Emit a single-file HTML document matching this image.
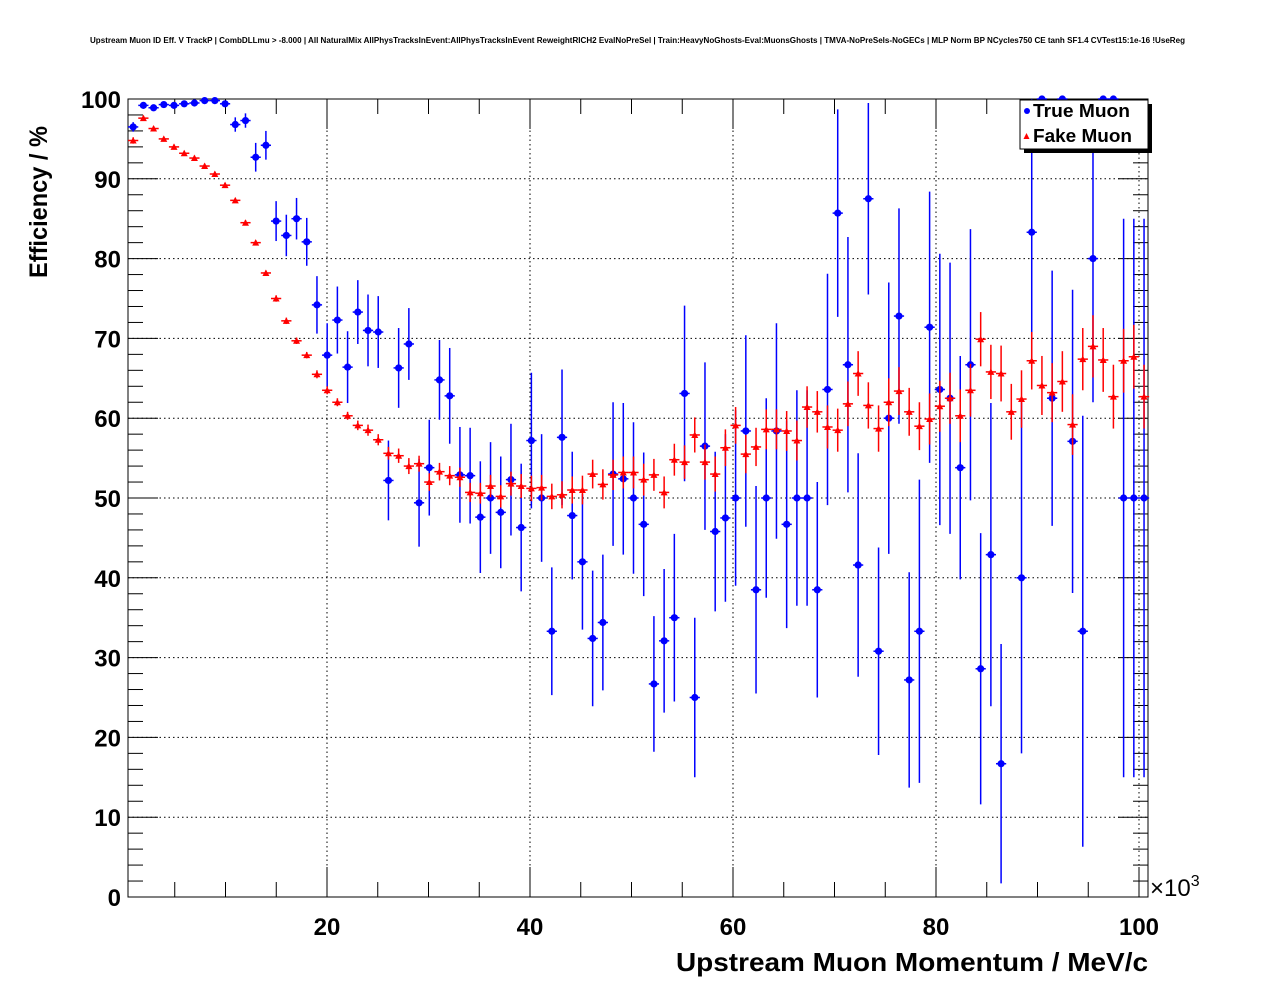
<!DOCTYPE html>
<html><head><meta charset="utf-8">
<style>
html,body{margin:0;padding:0;background:#fff;}
svg{display:block;font-family:"Liberation Sans",Arial,sans-serif;}
</style></head>
<body>
<svg id="chart" width="1276" height="996" viewBox="0 0 1276 996" xmlns="http://www.w3.org/2000/svg">
<rect x="0" y="0" width="1276" height="996" fill="#fff"/>
<text x="90" y="43" font-size="8" font-weight="bold" textLength="1095" lengthAdjust="spacingAndGlyphs">Upstream Muon ID Eff. V TrackP | CombDLLmu &gt; -8.000 | All NaturalMix AllPhysTracksInEvent:AllPhysTracksInEvent ReweightRICH2 EvalNoPreSel | Train:HeavyNoGhosts-Eval:MuonsGhosts | TMVA-NoPreSels-NoGECs | MLP Norm BP NCycles750 CE tanh SF1.4 CVTest15:1e-16 !UseReg</text>
<g id="grid"></g>
<g id="axes"></g>
<g id="series-true"></g>
<g id="series-fake"></g>
<text transform="translate(47,278) rotate(-90)" font-size="25" font-weight="bold" textLength="152" lengthAdjust="spacingAndGlyphs">Efficiency / %</text>
<text x="676" y="971" font-size="26" font-weight="bold" textLength="472" lengthAdjust="spacingAndGlyphs">Upstream Muon Momentum / MeV/c</text>
<text x="1150" y="896" font-size="24">×10<tspan font-size="16" dy="-10">3</tspan></text>
<g>
<rect x="1024" y="104" width="128" height="49" fill="#000"/>
<rect x="1020" y="100" width="128" height="49" fill="#fff" stroke="#000" stroke-width="1"/>
<circle cx="1027" cy="111" r="3" fill="#0000ff"/>
<text x="1033" y="117" font-size="18" font-weight="bold" textLength="97" lengthAdjust="spacingAndGlyphs">True Muon</text>
<polygon points="1023.5,139 1026.5,133 1029.5,139" fill="#ff0000"/>
<text x="1033" y="142" font-size="18" font-weight="bold" textLength="99" lengthAdjust="spacingAndGlyphs">Fake Muon</text>
</g>
</svg>
<script>
const trueVals=[96.5,99.2,98.9,99.3,99.2,99.4,99.5,99.8,99.8,99.4,96.8,97.3,92.7,94.2,84.7,82.9,85.0,82.1,74.2,67.9,72.3,66.4,73.3,71.0,70.8,52.2,66.3,69.3,49.4,53.8,64.8,62.8,52.9,52.8,47.6,50.0,48.2,52.3,46.3,57.2,50.0,33.3,57.6,47.8,42.0,32.4,34.4,53.0,52.4,50.0,46.7,26.7,32.1,35.0,63.1,25.0,56.5,45.8,47.5,50.0,58.4,38.5,50.0,58.4,46.7,50.0,50.0,38.5,63.6,85.7,66.7,41.6,87.5,30.8,60.0,72.8,27.2,33.3,71.4,63.6,62.5,53.8,66.7,28.6,42.9,16.7,null,40.0,83.3,100,62.5,100,57.1,33.3,80.0,100,100,50.0,50.0,50.0];
const trueErr=[0.6,0.3,0.3,0.3,0.3,0.3,0.3,0.3,0.3,0.4,0.9,0.9,1.8,1.8,2.5,2.6,2.6,3,3.6,4,4.2,4.5,4,4.5,4.5,5,5,4.5,5.5,6,5,6,6,6,7,7,7,7,8,8.5,8,8,8.5,8,8.5,8.5,8.5,9,9.5,9.5,9,8.5,9,10.5,11,10,10.5,10,10.5,11,12,13,12.5,13.5,13,13.5,13.5,13.5,14.5,13,16,14,12,13,17,13.5,13.5,19,17,17,17,14,17,17,19,15,0,22,17,0,16,0,19,27,18,0,0,35,35,35];
const fakeVals=[94.8,97.6,96.3,95.0,94.0,93.2,92.6,91.6,90.6,89.2,87.3,84.5,82.0,78.2,75.0,72.2,69.7,67.9,65.5,63.5,62.0,60.3,59.1,58.5,57.3,55.6,55.3,54.0,54.3,52.0,53.3,52.8,52.6,50.7,50.6,51.5,50.2,51.8,51.5,51.2,51.3,50.2,50.4,51.0,51.0,53.0,51.7,52.9,53.2,53.2,52.3,52.9,50.7,54.8,54.5,57.9,54.5,53.0,56.3,59.1,55.5,56.4,58.6,58.6,58.4,57.2,61.4,60.8,58.9,58.5,61.8,65.6,61.6,58.7,62.0,63.4,60.8,59.0,59.9,61.5,62.5,60.3,63.5,69.9,65.8,65.6,60.8,62.4,67.2,64.1,63.2,64.6,59.2,67.4,69.0,67.3,62.7,67.2,67.7,62.7];
const fakeErr=[0.4,0.3,0.3,0.3,0.3,0.3,0.3,0.3,0.3,0.3,0.3,0.3,0.3,0.3,0.4,0.4,0.4,0.4,0.5,0.5,0.5,0.5,0.6,0.7,0.7,0.8,0.9,1,1,1.1,1.1,1.2,1.2,1.2,1.3,1.4,1.4,1.5,1.5,1.6,1.6,1.6,1.7,1.7,1.8,1.8,1.9,1.9,2,2,2,2,2,2,2.1,2.2,2.2,2.2,2.3,2.3,2.4,2.4,2.5,2.5,2.5,2.5,2.6,2.6,2.7,2.7,2.8,2.8,2.9,2.9,3,3,3,3,3.2,3.2,3.2,3.3,3.3,3.4,3.4,3.5,3.5,3.6,3.6,3.7,3.7,3.8,3.8,3.9,3.9,4,4,4,4,4];
const xTicks=[20,40,60,80,100];
const yTicks=[0,10,20,30,40,50,60,70,80,90,100];
const binLo=0.4, binHi=101, nBins=100;

const NS="http://www.w3.org/2000/svg";
const L=128,R=1148,T=99,B=897;
const X=v=>124+10.15*v;
const Y=v=>B-(B-T)*v/100;
function mk(tag,attrs,parent){const e=document.createElementNS(NS,tag);for(const k in attrs)e.setAttribute(k,attrs[k]);parent.appendChild(e);return e;}
const grid=document.getElementById('grid'),axes=document.getElementById('axes');
xTicks.forEach(t=>{if(X(t)<R-2){const g=mk('line',{x1:X(t),x2:X(t),y1:T,y2:B,stroke:'#000','stroke-width':1,'stroke-dasharray':'1.5,3'},grid);

}});
yTicks.forEach(t=>{if(t>0&&t<100){const g=mk('line',{x1:L,x2:R,y1:Y(t),y2:Y(t),stroke:'#000','stroke-width':1,'stroke-dasharray':'1.5,3'},grid);

}});
const fr=mk('rect',{x:L,y:T,width:R-L,height:B-T,fill:'none',stroke:'#000','stroke-width':1},axes);


for(let v=5;v<=100;v+=5){const len=(v%20===0)?30:15;const x=X(v);if(x>R)continue;
mk('line',{x1:x,x2:x,y1:B,y2:B-len,stroke:'#000'},axes);mk('line',{x1:x,x2:x,y1:T,y2:T+len,stroke:'#000'},axes);}
for(let v=2;v<100;v+=2){const len=(v%10===0)?30:15;mk('line',{x1:L,x2:L+len,y1:Y(v),y2:Y(v),stroke:'#000'},axes);mk('line',{x1:R,x2:R-len,y1:Y(v),y2:Y(v),stroke:'#000'},axes);}
xTicks.forEach(t=>{const tx=mk('text',{x:X(t),y:935,'font-size':24,'font-weight':'bold','text-anchor':'middle'},axes);tx.textContent=t;

});
yTicks.forEach(t=>{const tx=mk('text',{x:121,y:Y(t)+9,'font-size':24,'font-weight':'bold','text-anchor':'end'},axes);tx.textContent=t;

});
const bw=(binHi-binLo)/nBins;
function drawSeries(vals,errs,gid,color,marker){
 const g=document.getElementById(gid);
 vals.forEach((v,i)=>{if(v===null)return;
  const c=binLo+bw*(i+0.5);const cx=X(c),cy=Y(v);
  const pt=mk('g',{},g);
  
  
  mk('line',{x1:X(c-bw/2),x2:X(c+bw/2),y1:cy,y2:cy,stroke:color,'stroke-width':1.5},pt);
  const e=errs[i];const top=Math.max(Y(Math.min(v+e,100)),T);const bot=Math.min(Y(Math.max(v-e,0)),B);
  if(e>0)mk('line',{x1:cx,x2:cx,y1:top,y2:bot,stroke:color,'stroke-width':1.5},pt);
  if(marker==='circle')mk('circle',{cx:cx,cy:cy,r:3.6,fill:color},pt);
  else mk('polygon',{points:`${cx-3.5},${cy+3} ${cx},${cy-3.5} ${cx+3.5},${cy+3}`,fill:color},pt);
 });
}
drawSeries(fakeVals,fakeErr,'series-fake','#ff0000','tri');
drawSeries(trueVals,trueErr,'series-true','#0000ff','circle');
</script>
</body></html>
